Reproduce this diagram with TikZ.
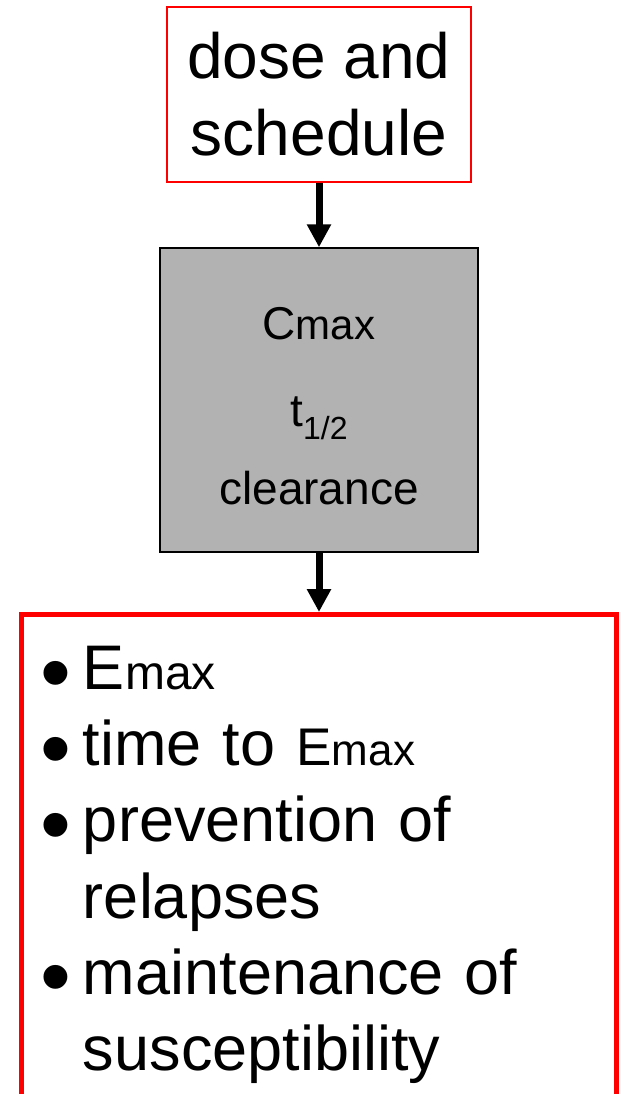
\documentclass[tikz,border=0pt]{standalone}
\usepackage{fontspec}
\setmainfont{Liberation Sans}
\usetikzlibrary{arrows.meta}
\definecolor{pkgray}{RGB}{178,178,178}

% a big round bullet, dropped towards the baseline
\newcommand{\listdot}{\makebox[21.2pt][l]{\raisebox{-6.25pt}{\fontsize{44}{44}\selectfont\textbullet}}}

\begin{document}
\begin{tikzpicture}[x=0.5pt,y=0.5pt,
    inputbox/.style={draw=red,line width=0.75pt,minimum width=152pt,minimum height=87.5pt,
      inner sep=0pt,align=center,font=\fontsize{32}{38.5}\selectfont},
    pkbox/.style={draw=black,fill=pkgray,line width=0.75pt,minimum width=159pt,minimum height=152pt,
      inner sep=0pt,align=center,font=\fontsize{23}{39}\selectfont},
    effectbox/.style={draw=red,line width=2.5pt,text width=278.4pt,inner xsep=9.55pt,inner ysep=10.85pt,
      anchor=north,font=\fontsize{31.5}{38.1}\selectfont},
    flow/.style={line width=3.5pt,-{Triangle[width=11.5pt,length=11.5pt]}}]

  % --- page frame; the list box runs off the bottom edge ---
  \path[use as bounding box,clip] (0,0) rectangle (621,-1094);

  % --- the dosing regimen ---
  \node[inputbox] (dose) at (319,-94.5) {dose and\\schedule};

  % --- pharmacokinetic parameters ---
  \node[pkbox] (pk) at (319,-400)
    {\rule{0pt}{22.5pt}C{\fontsize{21}{21}\selectfont max}\\[4.5pt]
     t\raisebox{-6.5pt}{\fontsize{16}{16}\selectfont 1/2}\\
     clearance};

  % --- pharmacodynamic outcomes ---
  \node[effectbox] (effect) at (319,-612)
    {\noindent\begin{tabular}[t]{@{}l@{}l@{}}
      \listdot & E{\fontsize{24}{24}\selectfont max}\\
      \listdot & time to {\fontsize{26.5}{26.5}\selectfont E{\fontsize{22}{22}\selectfont max}}\\
      \listdot & prevention of\\
               & relapses\\
      \listdot & maintenance of\\
               & susceptibility
    \end{tabular}};

  % --- arrows ---
  \draw[flow] (dose) -- (pk);
  \draw[flow] (pk) -- (effect);
\end{tikzpicture}
\end{document}
